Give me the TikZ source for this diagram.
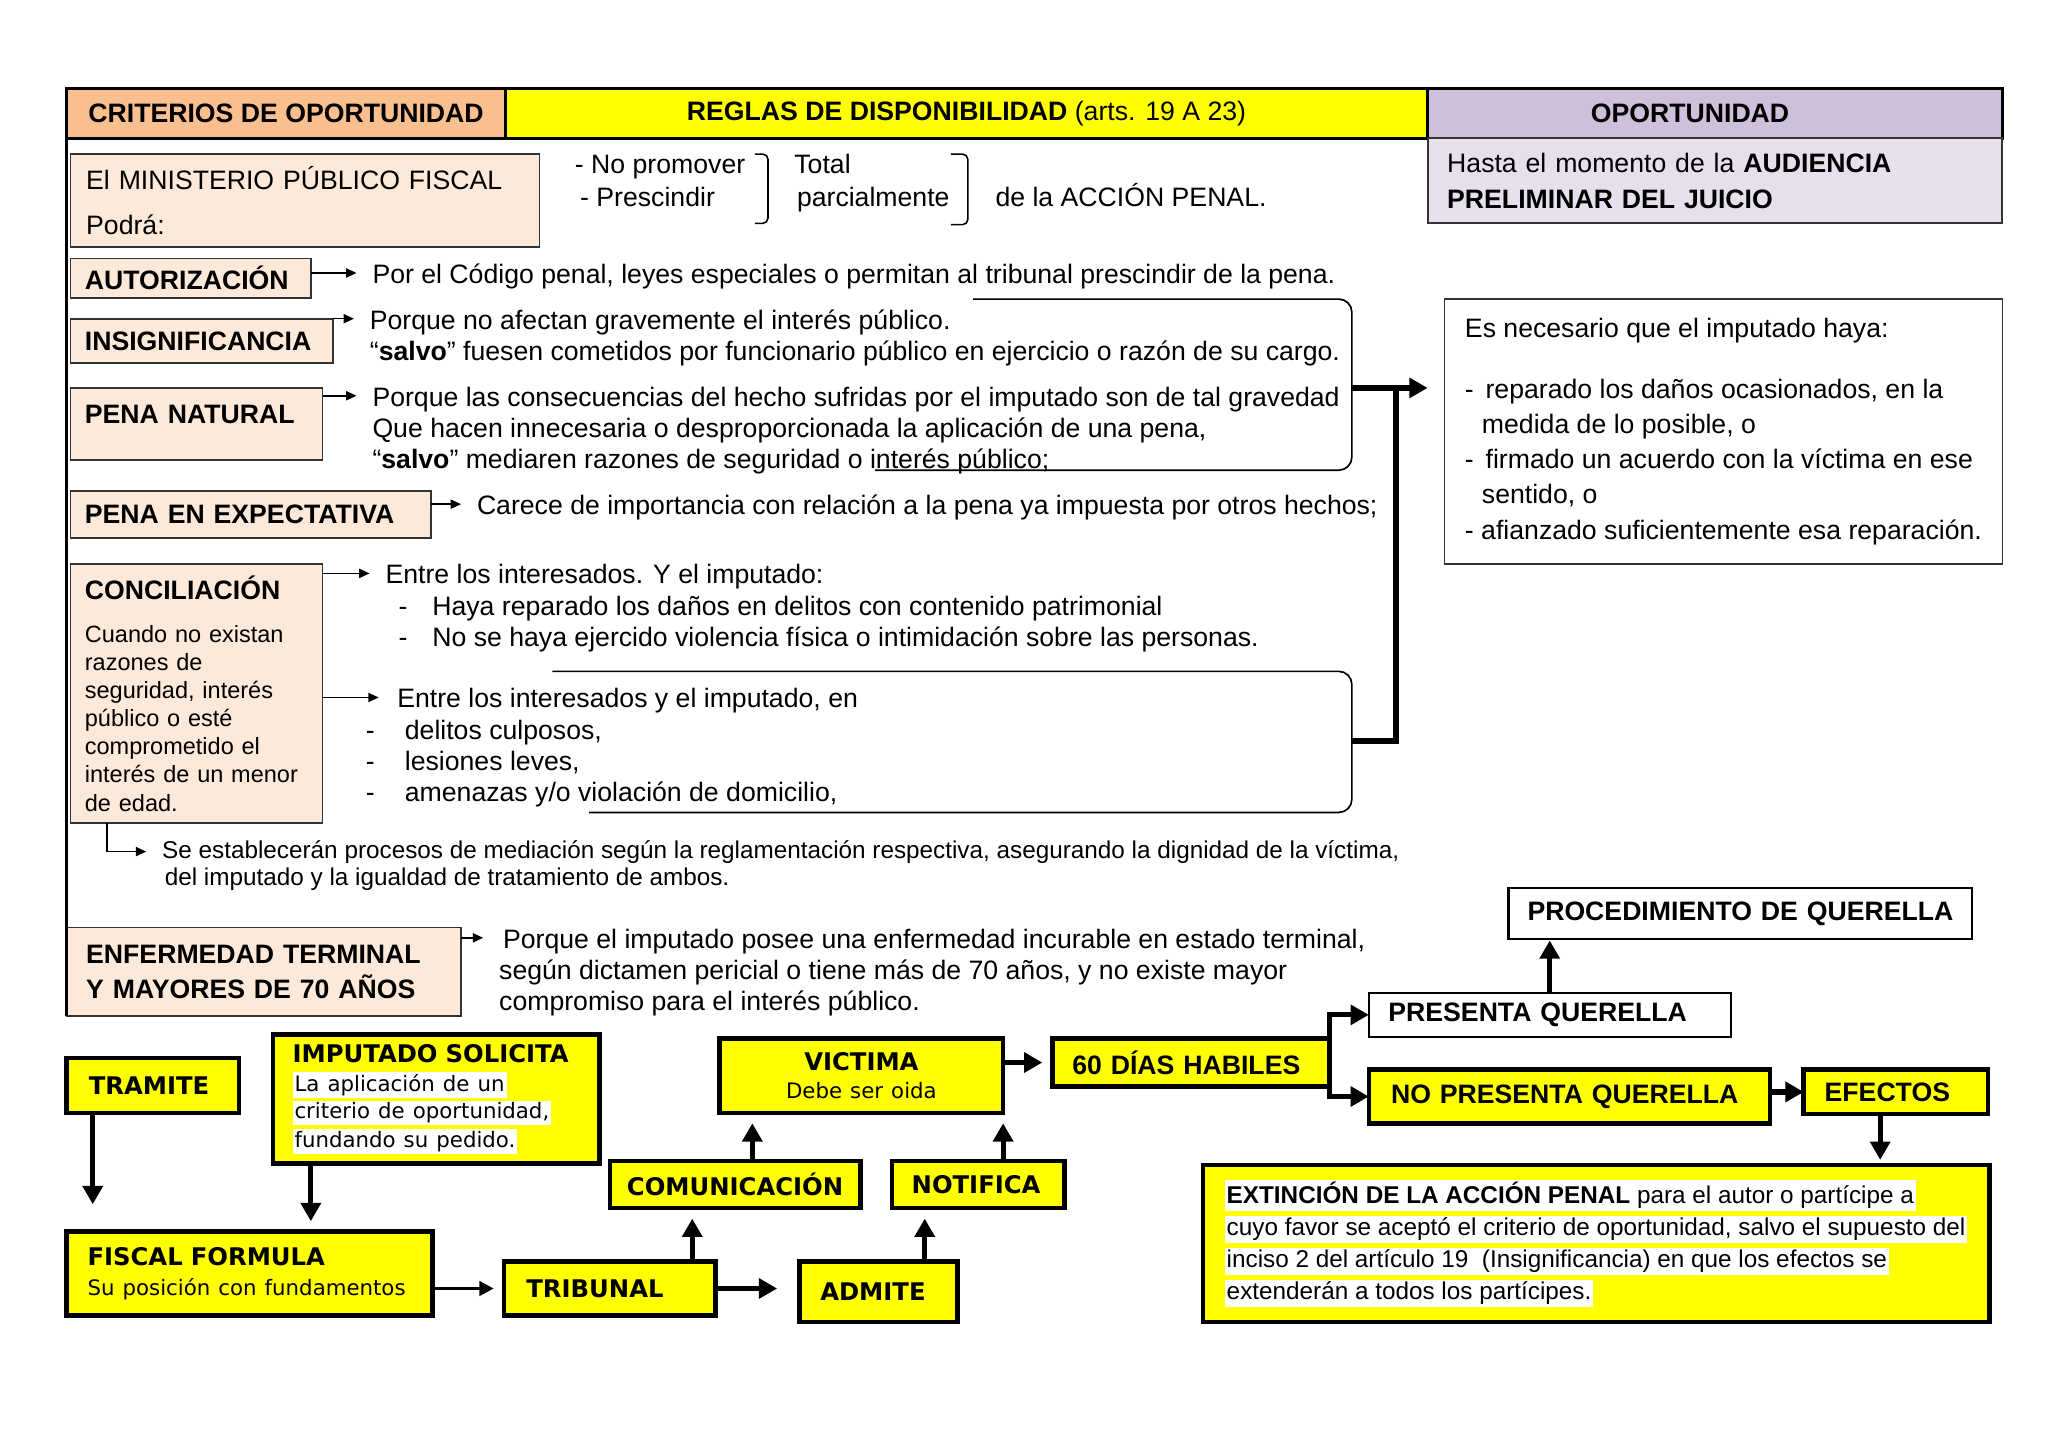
\documentclass[tikz,border=0pt]{standalone}
\usepackage{fontspec}
\setmainfont{Liberation Sans}
\newfontfamily\flowfont{DejaVu Sans}
\usepackage{tikz}
\usetikzlibrary{arrows.meta,calc}

\definecolor{critpeach}{RGB}{250,191,143}
\definecolor{boxpeach}{RGB}{253,233,217}
\definecolor{oplilac}{RGB}{204,192,218}
\definecolor{oplight}{RGB}{229,224,236}
\definecolor{flowyellow}{RGB}{255,255,0}

\newcommand{\bodysize}{\fontsize{20.4}{24}\selectfont}
\newcommand{\smallsize}{\fontsize{18.6}{21}\selectfont}
\newcommand{\hlw}[1]{{\setlength{\fboxsep}{1.5pt}\colorbox{white}{#1}}}
\newcommand{\txtlines}[1]{\begin{tabular}[t]{@{}l@{}}#1\end{tabular}}
\hyphenpenalty=10000
\exhyphenpenalty=10000

\begin{document}
\begin{tikzpicture}[x=1pt, y=-1pt,
    head/.style={draw=black, line width=2.5pt, anchor=north west, outer sep=0pt, minimum height=38pt, inner sep=0pt, font=\bfseries\bodysize},
    crit/.style={draw=black!80, line width=1.3pt, fill=boxpeach, anchor=north west, outer sep=0pt, align=left, inner xsep=11pt, inner ysep=0pt, font=\bfseries\bodysize},
    desc/.style={anchor=base west, inner xsep=12pt, inner ysep=0pt, font=\bodysize},
    note/.style={draw=black!80, line width=1.3pt, anchor=north west, outer sep=0pt, align=left, inner xsep=15pt, inner ysep=0pt, font=\bodysize},
    flow/.style={draw=black, line width=3.5pt, fill=flowyellow, anchor=north west, outer sep=0pt, align=left, inner xsep=16pt, inner ysep=0pt, font=\flowfont\bfseries\fontsize{18.6}{22}\selectfont},
    quer/.style={draw=black, line width=3.5pt, fill=flowyellow, anchor=north west, outer sep=0pt, align=left, inner xsep=16pt, inner ysep=0pt, font=\bfseries\bodysize},
    arr/.style={-{Triangle[length=8pt,width=7pt]}, line width=1.2pt},
    bigarr/.style={-{Triangle[length=14pt,width=15pt]}, line width=4pt},
    midarr/.style={-{Triangle[length=11pt,width=11pt]}, line width=2.5pt},
    bracket/.style={line width=1.3pt, rounded corners=10pt}
]
\useasboundingbox (0,0) rectangle (1568,1108);

% header row
\node[head, fill=critpeach, minimum width=336pt] (crithead) at (51,68) {CRITERIOS DE OPORTUNIDAD};
\node[head, fill=flowyellow, minimum width=706pt] (reglas) at (387,68) {REGLAS DE DISPONIBILIDAD {\mdseries (arts. 19 A 23)}};
\node[head, fill=oplilac, text width=400pt, inner xsep=20pt, align=left] (ophead) at (1093,68) {\hspace*{105pt}OPORTUNIDAD};
\node[note, fill=oplight, line width=1.5pt, text width=410pt, minimum height=65pt] (opbody) at (1093,106) {Hasta el momento de la \textbf{AUDIENCIA}\\[4pt]\textbf{PRELIMINAR DEL JUICIO}};

% ministerio publico
\node[crit, font=\bodysize, text width=335pt, inner xsep=12pt, minimum height=71pt] (mpf) at (54,118) {El MINISTERIO PÚBLICO FISCAL\\[11pt]Podrá:};
\node[desc, inner xsep=0pt] (verbs) at (440,133) {\txtlines{- No promover\\[1pt]\hspace*{4pt}- Prescindir}};
\node[desc, inner xsep=0pt] (scope) at (608,133) {\txtlines{Total\\[1pt]\hspace*{2pt}parcialmente}};
\node[desc, inner xsep=0pt] (accion) at (762,158) {de la ACCIÓN PENAL.};
\draw[line width=1.2pt, rounded corners=4pt] (578,118) -- (588,118) -- (588,171) -- (578,171);
\draw[line width=1.2pt, rounded corners=4pt] (728,118) -- (741,118) -- (741,172) -- (728,172);

% criterios
\node[crit, text width=162pt, minimum height=30pt] (autbox) at (54,198) {AUTORIZACIÓN};
\node[crit, text width=179pt, minimum height=34pt] (insbox) at (54,244) {INSIGNIFICANCIA};
\node[crit, text width=171pt, minimum height=55pt] (natbox) at (54,297) {\raisebox{14pt}{PENA NATURAL}};
\node[crit, text width=254pt, minimum height=36pt] (expbox) at (54,376) {PENA EN EXPECTATIVA};
\node[crit, text width=171pt, minimum height=198pt, font=\fontsize{18}{21.5}\selectfont] (conbox) at (54,432) {{\bfseries\fontsize{20.4}{21.5}\selectfont CONCILIACIÓN}\\[11.5pt]Cuando no existan\\razones de\\seguridad, interés\\público o esté\\comprometido el\\interés de un menor\\de edad.};
\node[crit, text width=272pt, inner xsep=15pt, minimum height=68pt, font=\bfseries\fontsize{20.4}{27}\selectfont] (enfbox) at (51,710) {ENFERMEDAD TERMINAL\\Y MAYORES DE 70 AÑOS};

\node[desc] (auttxt) at (273,217) {Por el Código penal, leyes especiales o permitan al tribunal prescindir de la pena.};
\node[desc] (instxt) at (271,252) {\txtlines{Porque no afectan gravemente el interés público.\\“\textbf{salvo}” fuesen cometidos por funcionario público en ejercicio o razón de su cargo.}};
\node[desc] (nattxt) at (273,311) {\txtlines{Porque las consecuencias del hecho sufridas por el imputado son de tal gravedad\\Que hacen innecesaria o desproporcionada la aplicación de una pena,\\“\textbf{salvo}” mediaren razones de seguridad o interés público;}};
\node[desc] (exptxt) at (353,394) {Carece de importancia con relación a la pena ya impuesta por otros hechos;};
\node[desc] (con1txt) at (283,447) {\txtlines{Entre los interesados. Y el imputado:\\\hspace*{10pt}-\hspace*{19pt}Haya reparado los daños en delitos con contenido patrimonial\\\hspace*{10pt}-\hspace*{19pt}No se haya ejercido violencia física o intimidación sobre las personas.}};
\node[desc] (con2txt) at (268,542) {\txtlines{\hspace*{24pt}Entre los interesados y el imputado, en\\-\hspace*{23pt}delitos culposos,\\-\hspace*{23pt}lesiones leves,\\-\hspace*{23pt}amenazas y/o violación de domicilio,}};
\node[desc, font=\smallsize] (medtxt) at (112,657) {\txtlines{Se establecerán procesos de mediación según la reglamentación respectiva, asegurando la dignidad de la víctima,\\\hspace*{2pt}del imputado y la igualdad de tratamiento de ambos.}};
\node[desc] (enftxt) at (370,726) {\txtlines{\hspace*{3pt}Porque el imputado posee una enfermedad incurable en estado terminal,\\según dictamen pericial o tiene más de 70 años, y no existe mayor\\compromiso para el interés público.}};

\node[note, minimum width=427pt, minimum height=203pt, line width=1.2pt, font=\fontsize{20.4}{27}\selectfont] (necbox) at (1106,229) {Es necesario que el imputado haya:\\[19pt]-\hspace*{9pt}reparado los daños ocasionados, en la\\\hspace*{13pt}medida de lo posible, o\\-\hspace*{9pt}firmado un acuerdo con la víctima en ese\\\hspace*{13pt}sentido, o\\- afianzado suficientemente esa reparación.};

% arrows of the criterios
\foreach \bx/\tx/\dx in {aut/aut/0, ins/ins/0, nat/nat/0, exp/exp/0, con/con1/0, con/con2/22, enf/enf/0} {
    \coordinate (\tx tip) at ([xshift=\dx pt, yshift=8pt]\tx txt.base west);
    \draw[arr] (\bx box.east |- \tx tip) -- (\tx tip);
}
\draw[line width=2.5pt] (crithead.south west) -- (enfbox.south west);
\coordinate (medtip) at ([yshift=5pt]medtxt.base west);
\draw[arr] ([xshift=28pt]conbox.south west) |- (medtip);

% open boxes and the thick joint
\draw[bracket] (745,229) -| (1035,360) -- (670,360);
\draw[bracket] (423,514) -| (1035,622) -- (451,622);
\coordinate (brkA) at (1035,297);
\coordinate (brkB) at (1035,567);
\coordinate (brkjoin) at (1069,297);
\draw[line width=4.5pt] (brkB) -| (brkjoin);
\draw[bigarr, line width=4.5pt, shorten >=13pt] (brkA) -- (brkA -| necbox.west);

% tramite
\node[flow, text width=98pt, minimum height=42pt, inner xsep=17pt] (tramite) at (51,810) {TRAMITE};
\node[flow, text width=220pt, minimum height=99pt, inner xsep=15pt] (imputado) at (209,792) {IMPUTADO SOLICITA\\[1pt]{\mdseries\fontsize{16.3}{21}\selectfont\hlw{La aplicación de un}\\\hlw{criterio de oportunidad,}\\\hlw{fundando su pedido.}}};
\node[flow, text width=248pt, minimum height=64pt] (fiscal) at (51,943) {FISCAL FORMULA\\[1pt]{\mdseries\fontsize{16.3}{22}\selectfont Su posición con fundamentos}};
\node[flow, text width=128pt, minimum height=41pt, inner xsep=17pt] (tribunal) at (386,966) {TRIBUNAL};
\node[flow, text width=89pt, minimum height=46pt] (admite) at (612,966) {ADMITE};
\node[flow, text width=166pt, minimum height=36pt, inner xsep=13pt] (comunica) at (467,889) {COMUNICACIÓN};
\node[flow, text width=102pt, minimum height=36pt, inner xsep=15pt] (notifica) at (683,889) {NOTIFICA};
\node[flow, align=center, text width=185pt, minimum height=57pt] (victima) at (551,795) {VICTIMA\\{\mdseries\fontsize{16.3}{22}\selectfont Debe ser oida}};
\node[quer, text width=182pt, minimum height=37pt, inner xsep=15pt] (dias) at (806,795) {60 DÍAS HABILES};
\node[quer, fill=white, line width=1.5pt, text width=247pt, minimum height=34pt, inner xsep=15pt] (presenta) at (1048,760) {PRESENTA QUERELLA};
\node[quer, fill=white, line width=1.8pt, align=center, text width=339pt, minimum height=39pt, inner xsep=8pt] (procq) at (1155,680) {PROCEDIMIENTO DE QUERELLA};
\node[quer, text width=273pt, minimum height=41pt, inner xsep=17pt] (nopresenta) at (1048,819) {NO PRESENTA QUERELLA};
\node[quer, text width=109pt, minimum height=34pt] (efectos) at (1381,819) {EFECTOS};
\node[quer, minimum width=602pt, minimum height=120pt, font=\fontsize{18.6}{24.5}\selectfont] (extincion) at (921,892) {\hlw{\textbf{EXTINCIÓN DE LA ACCIÓN PENAL} para el autor o partícipe a}\\\hlw{cuyo favor se aceptó el criterio de oportunidad, salvo el supuesto del}\\\hlw{inciso 2 del artículo 19\ \ (Insignificancia) en que los efectos se}\\\hlw{extenderán a todos los partícipes.}};

% flow arrows
\coordinate (tr1) at ([xshift=20pt]tramite.south west);
\draw[bigarr, shorten >=21pt] (tr1) -- (tr1 |- fiscal.north);
\coordinate (im1) at ([xshift=29pt]imputado.south west);
\draw[bigarr, shorten >=8pt] (im1) -- (im1 |- fiscal.north);
\draw[midarr, shorten >=8pt] (fiscal.east |- tribunal.west) -- (tribunal.west);
\draw[bigarr, shorten >=17pt] (tribunal.east) -- (tribunal.east -| admite.west);
\coordinate (tr2) at ([xshift=-18pt]tribunal.north east);
\draw[bigarr, shorten >=8pt] (tr2) -- (tr2 |- comunica.south);
\coordinate (ad1) at ([xshift=-25pt]admite.north east);
\draw[bigarr, shorten >=8pt] (ad1) -- (ad1 |- notifica.south);
\coordinate (co1) at ([xshift=13pt]comunica.north);
\draw[bigarr, shorten >=8pt] (co1) -- (co1 |- victima.south);
\coordinate (no1) at ([xshift=19pt]notifica.north);
\draw[bigarr, shorten >=8pt] (no1) -- (no1 |- victima.south);
\draw[bigarr, shorten >=8pt] (victima.east |- dias.west) -- (dias.west);
\draw[bigarr] (dias.north east) |- (presenta.west);
\draw[bigarr] (dias.south east) |- (nopresenta.west);
\draw[bigarr] (nopresenta.east |- efectos.west) -- (efectos.west);
\coordinate (ef1) at ([xshift=-12pt]efectos.south);
\draw[bigarr, shorten >=4pt] (ef1) -- (ef1 |- extincion.north);
\draw[bigarr, shorten >=1pt] (presenta.north) -- (presenta.north |- procq.south);

\end{tikzpicture}
\end{document}
